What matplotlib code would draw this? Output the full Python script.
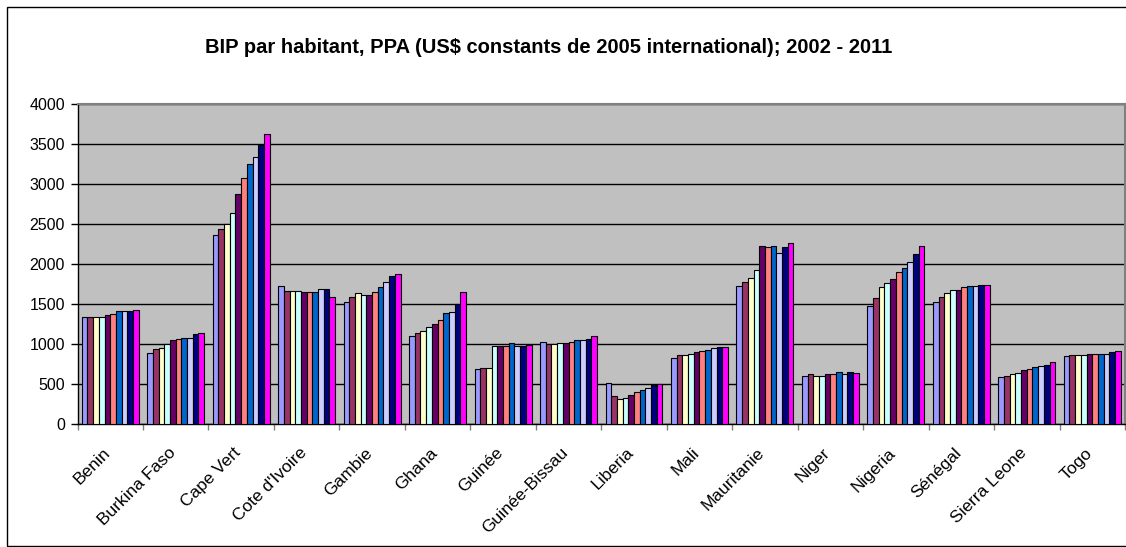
import matplotlib
matplotlib.use("Agg")
import matplotlib.pyplot as plt
import numpy as np
from matplotlib.patches import Rectangle

plt.rcParams['font.family'] = ['Liberation Sans', 'DejaVu Sans']

countries = ["Benin", "Burkina Faso", "Cape Vert", "Cote d'Ivoire", "Gambie", "Ghana",
             "Guinée", "Guinée-Bissau", "Liberia", "Mali", "Mauritanie", "Niger",
             "Nigeria", "Sénégal", "Sierra Leone", "Togo"]
years = ["2002", "2003", "2004", "2005", "2006", "2007", "2008", "2009", "2010", "2011"]

y2002 = [1346, 887, 2362, 1721, 1522, 1098, 690, 1031, 520, 827, 1726, 607, 1476, 1522, 590, 848]
y2003 = [1346, 942, 2433, 1667, 1588, 1135, 707, 1002, 353, 865, 1775, 628, 1572, 1588, 607, 865]
y2004 = [1346, 958, 2500, 1667, 1638, 1164, 707, 998, 320, 861, 1830, 607, 1709, 1638, 628, 865]
y2005 = [1346, 1008, 2637, 1667, 1609, 1214, 981, 1015, 333, 877, 1929, 607, 1763, 1672, 644, 865]
y2006 = [1362, 1050, 2875, 1654, 1609, 1256, 981, 1015, 370, 898, 2229, 628, 1809, 1672, 682, 881]
y2007 = [1379, 1062, 3075, 1654, 1655, 1301, 981, 1031, 403, 919, 2220, 628, 1896, 1709, 694, 881]
y2008 = [1417, 1075, 3246, 1654, 1709, 1389, 1015, 1052, 424, 931, 2229, 657, 1946, 1726, 711, 881]
y2009 = [1417, 1075, 3333, 1687, 1775, 1405, 981, 1052, 457, 948, 2141, 628, 2029, 1726, 728, 881]
y2010 = [1417, 1125, 3492, 1687, 1846, 1501, 981, 1069, 495, 969, 2216, 657, 2133, 1738, 744, 898]
y2011 = [1433, 1146, 3625, 1587, 1875, 1655, 994, 1098, 503, 961, 2266, 640, 2229, 1738, 782, 919]

series = [y2002, y2003, y2004, y2005, y2006, y2007, y2008, y2009, y2010, y2011]
colors = ['#9999FF', '#993366', '#FFFFCC', '#CCFFFF', '#660066',
          '#FF8080', '#0066CC', '#CCCCFF', '#000080', '#FF00FF']

W, H = 1126, 547
fig = plt.figure(figsize=(W / 100, H / 100), dpi=100)
fig.patch.set_facecolor('white')

# outer chart border
fig.patches.append(Rectangle((7 / W, 1 / H), 1.2, (H - 8) / H, transform=fig.transFigure,
                             fill=False, edgecolor='black', linewidth=1.0))

left, right, top, bottom = 77.5, 1125, 104, 424.3
ax = fig.add_axes([left / W, 1 - bottom / H, (right - left) / W, (bottom - top) / H])
ax.set_facecolor('#C0C0C0')

x = np.arange(len(countries))
n = len(series)
w = 1 / (n + 1.5)
for j, (vals, c) in enumerate(zip(series, colors)):
    ax.bar(x + (j - (n - 1) / 2) * w, vals, width=w, color=c, edgecolor='black',
           linewidth=0.8, label=years[j], zorder=3)

ax.set_xlim(-0.5, len(countries) - 0.5)
ax.set_ylim(0, 4000)
ax.set_yticks(np.arange(0, 4001, 500))
ax.yaxis.grid(True, color='black', linewidth=1.0, zorder=1)
ax.set_axisbelow(True)

ax.tick_params(axis='y', direction='out', length=5, width=1, color='black', pad=4,
               labelsize=11.5)
# label anchors sit slightly left of each category centre, as in the original
ax.set_xticks(x - 0.12)
ax.set_xticklabels(countries, rotation=45, ha='right', rotation_mode='anchor', fontsize=12.5)
ax.tick_params(axis='x', which='major', length=0, pad=15)
ax.set_xticks(np.arange(-0.5, len(countries), 1), minor=True)
ax.tick_params(axis='x', which='minor', direction='out', length=4, width=1, color='#808080')

for s in ['top', 'right']:
    ax.spines[s].set_color('#808080')
    ax.spines[s].set_linewidth(1.5)
for s in ['left', 'bottom']:
    ax.spines[s].set_color('black')
    ax.spines[s].set_linewidth(1.0)

fig.text(549 / W, 1 - 48 / H,
         "BIP par habitant, PPA (US$ constants de 2005 international); 2002 - 2011",
         ha='center', va='center', fontsize=14.5, fontweight='bold')

fig.savefig('out.png', dpi=100)
